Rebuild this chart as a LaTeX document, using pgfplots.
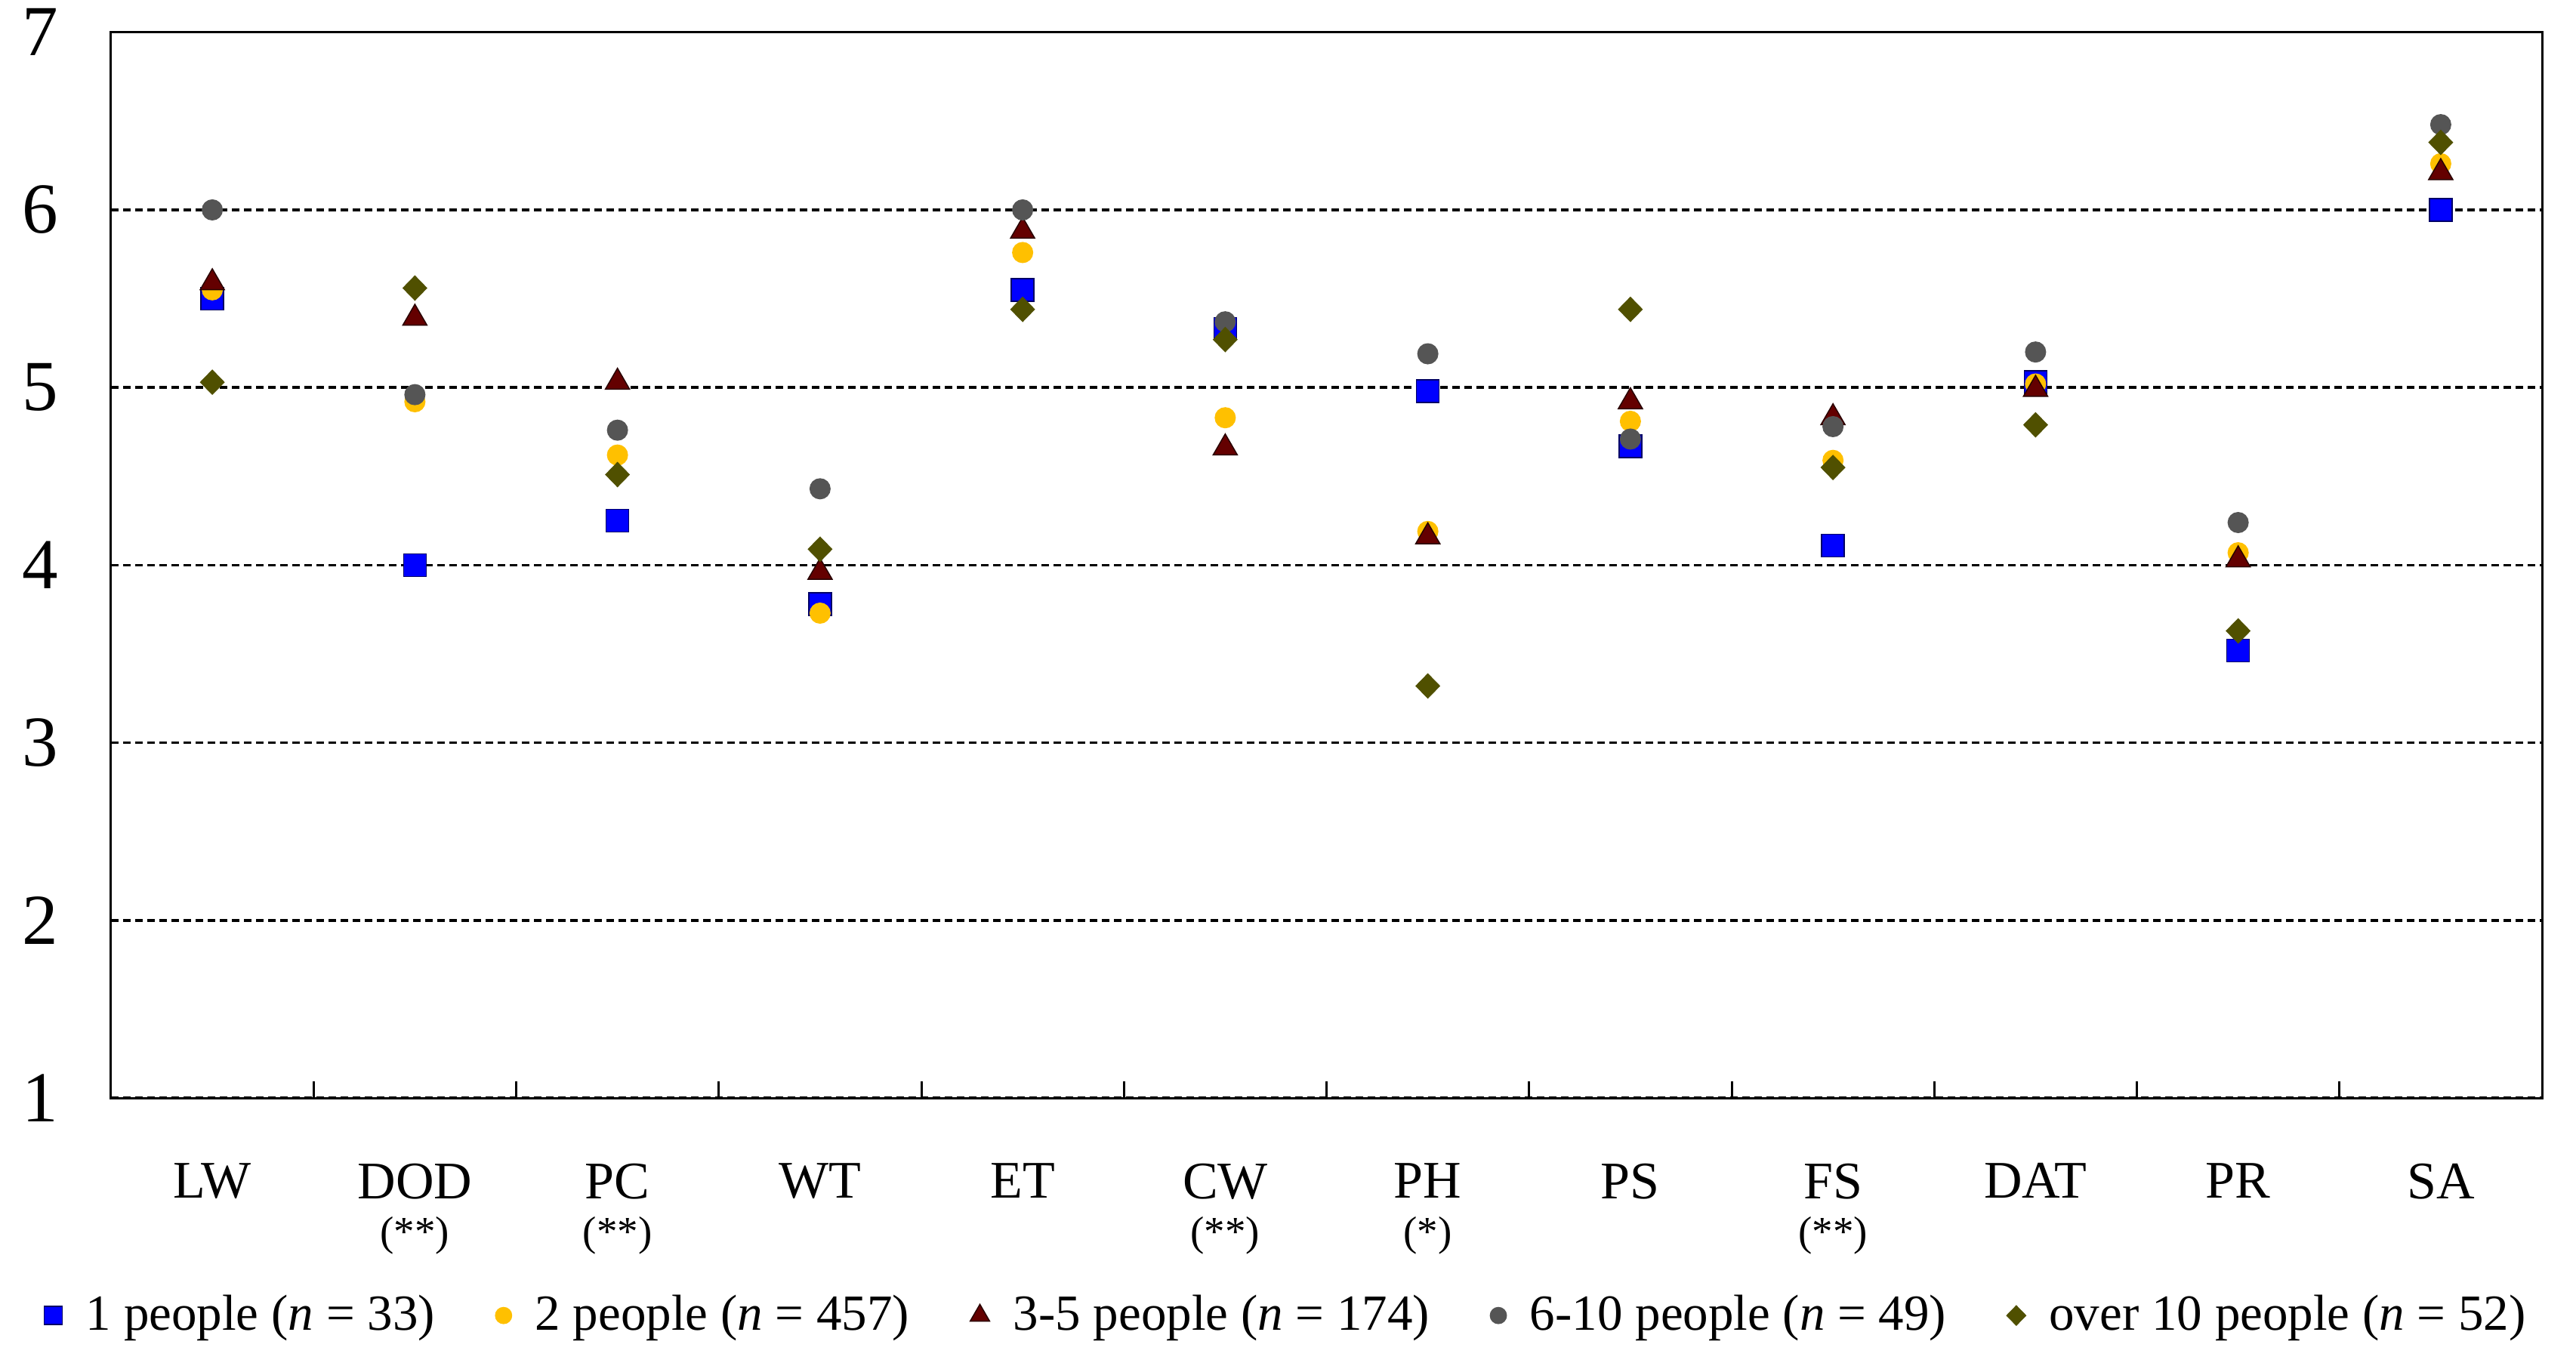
\documentclass[border=0pt]{standalone}
\usepackage{fontspec}
\setmainfont{Liberation Serif}
\usepackage{pgfplots}
\usepackage{pgfplotstable}
\pgfplotsset{compat=1.18}

\definecolor{c1}{RGB}{0,0,255}
\definecolor{c2}{RGB}{255,192,0}
\definecolor{c3}{RGB}{100,0,0}
\definecolor{c4}{RGB}{85,85,85}
\definecolor{c5}{RGB}{80,80,0}

% mean scores by household size, categories at 0..11
\pgfplotstableread{
x  s1   s2   s3   s4   s5
0  5.50 5.55 5.59 6.00 5.03
1  4.00 4.92 5.39 4.96 5.56
2  4.25 4.62 5.03 4.76 4.51
3  3.78 3.73 3.96 4.43 4.09
4  5.55 5.76 5.88 6.00 5.44
5  5.33 4.83 4.66 5.37 5.27
6  4.98 4.19 4.16 5.19 3.32
7  4.67 4.81 4.92 4.71 5.44
8  4.11 4.59 4.83 4.78 4.55
9  5.03 5.02 4.99 5.20 4.79
10 3.52 4.07 4.03 4.24 3.63
11 6.00 6.26 6.21 6.48 6.38
}\scores

\newcommand{\stars}[1]{{\fontsize{11}{12.5}\selectfont(#1)}}

\begin{document}
\begin{tikzpicture}
\useasboundingbox (-29.4pt,-70.8pt) rectangle (652.8pt,290.84pt);
\begin{axis}[
    scale only axis,
    width=643.8pt,
    height=282.3pt,
    xmin=-0.5, xmax=11.5,
    ymin=1, ymax=7,
    axis line style={black, line width=0.6pt},
    ytick={1,...,7},
    ytick pos=left,
    major y tick style={draw=none},
    yticklabel style={font=\fontsize{19}{19}\selectfont, anchor=center, xshift=-18.8pt},
    /pgf/number format/assume math mode=true,
    ymajorgrids,
    grid style={black, line width=0.7pt, dash pattern=on 2pt off 1.2pt},
    xtick={0,...,11},
    xtick pos=bottom,
    major x tick style={draw=none},
    minor x tick num=1,
    minor tick length=4.5pt,
    minor x tick style={black, line width=0.6pt},
    xticklabels={LW, {DOD\\\stars{**}}, {PC\\\stars{**}}, WT, ET, {CW\\\stars{**}},
        {PH\\\stars{*}}, PS, {FS\\\stars{**}}, DAT, PR, SA},
    xticklabel style={align=center, inner sep=0pt, yshift=-17.1pt,
        font=\fontsize{14}{12.5}\selectfont},
    legend columns=5,
    legend style={draw=none, fill=none, at={(0.4845,-0.2040)}, anchor=center,
        font=\fontsize{13.4}{14}\selectfont,
        /tikz/every odd column/.append style={column sep=4.3pt},
        /tikz/every even column/.append style={column sep=14.1pt}},
    legend image code/.code={%
        \draw[mark repeat=2, mark phase=2, #1, every mark/.append style={scale=0.8}]
        plot coordinates {(0pt,0pt) (4pt,0pt) (8pt,0pt)};},
]
\addplot[only marks, mark=square*, mark size=3pt,
    mark options={fill=c1, draw=black!60!blue, line width=0.3pt}]
    table[x=x, y=s1] {\scores};
\addlegendentry{1 people (\textit{n} = 33)}
\addplot[only marks, mark=*, mark size=2.6pt,
    mark options={fill=c2, draw=c2}]
    table[x=x, y=s2] {\scores};
\addlegendentry{2 people (\textit{n} = 457)}
\addplot[only marks, mark=triangle*, mark size=3.7pt,
    mark options={fill=c3, draw=black!60!c3, line width=0.3pt}]
    table[x=x, y=s3] {\scores};
\addlegendentry{3-5 people (\textit{n} = 174)}
\addplot[only marks, mark=*, mark size=2.6pt,
    mark options={fill=c4, draw=c4}]
    table[x=x, y=s4] {\scores};
\addlegendentry{6-10 people (\textit{n} = 49)}
\addplot[only marks, mark=diamond*, mark size=3.1pt,
    mark options={fill=c5, draw=c5, xscale=1.3}]
    table[x=x, y=s5] {\scores};
\addlegendentry{over 10 people (\textit{n} = 52)}
\end{axis}
\end{tikzpicture}
\end{document}
